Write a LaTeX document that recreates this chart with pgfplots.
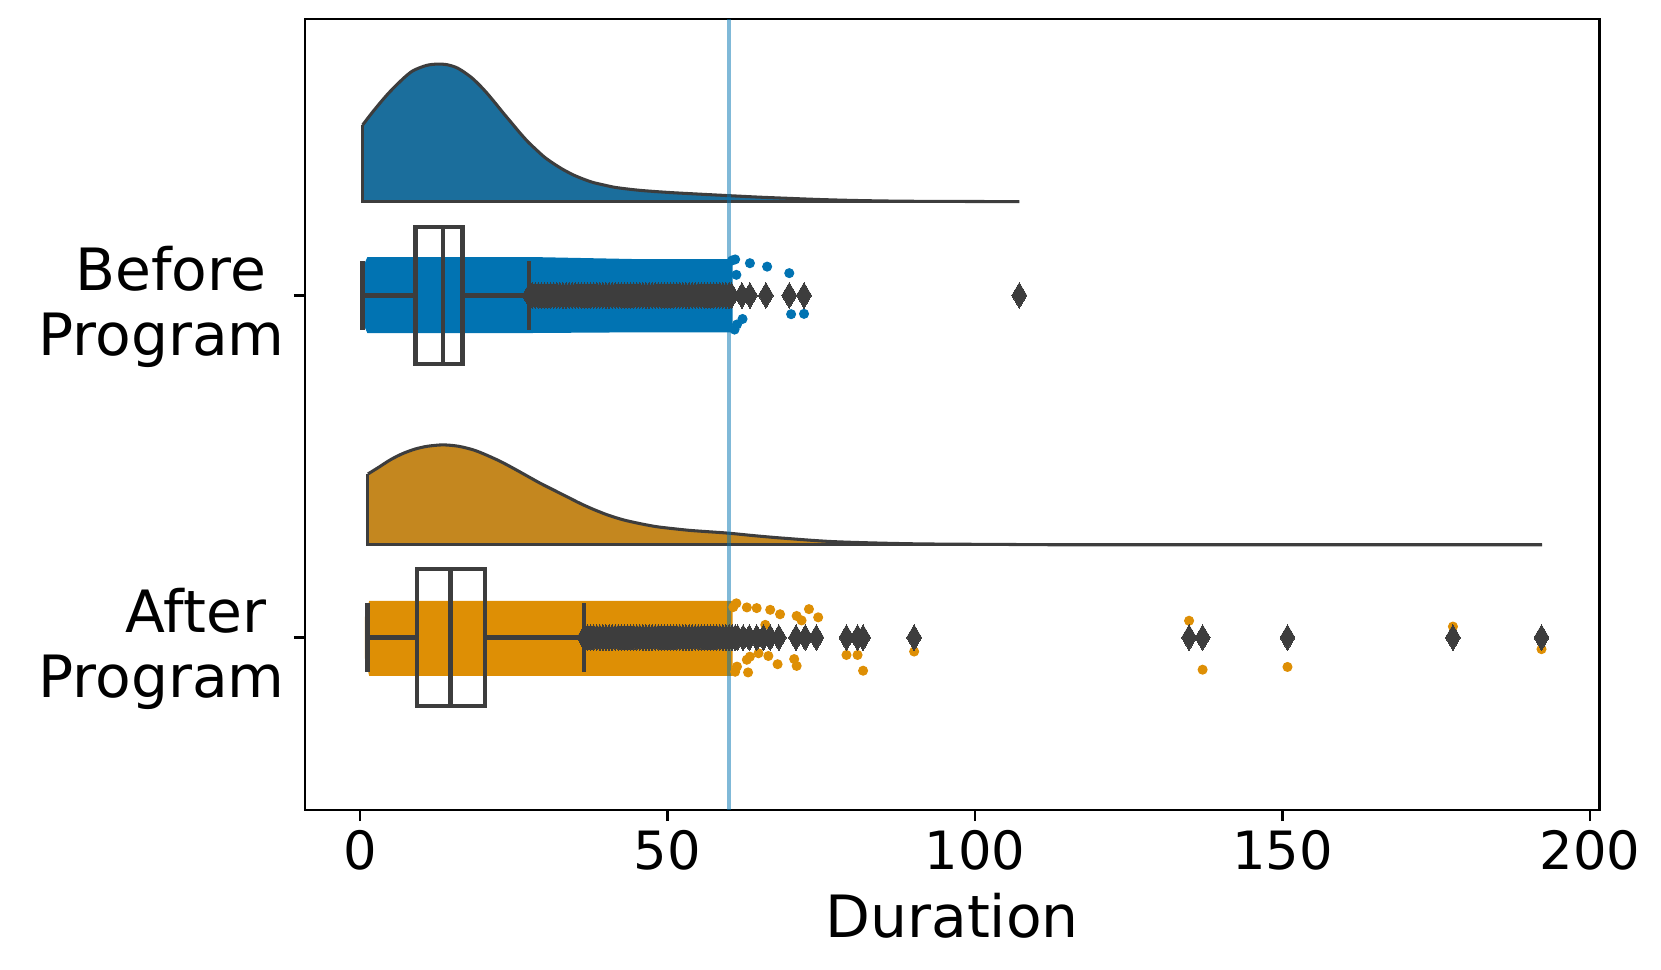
\documentclass[border=0pt]{standalone}
\usepackage{pgfplots}
\pgfplotsset{compat=1.18}
\usepackage{fontspec}
\setmainfont{DejaVu Sans}
\definecolor{cloudB}{HTML}{1B6E9C}
\definecolor{cloudA}{HTML}{C4871F}
\definecolor{dotB}{HTML}{0173B2}
\definecolor{dotA}{HTML}{DE8F05}
\definecolor{boxc}{HTML}{3D3D3D}
\pgfplotstableread{
x y
0.44 -0.498
1.8 -0.530
3.25 -0.562
4.6 -0.590
5.96 -0.615
7.3 -0.638
8.67 -0.657
10.8 -0.672
12.6 -0.676
14.2 -0.674
15.9 -0.664
17.9 -0.640
19.3 -0.617
20.6 -0.592
22.0 -0.562
23.3 -0.533
24.7 -0.503
26.0 -0.475
27.3 -0.449
28.7 -0.425
30.0 -0.404
31.4 -0.386
33.0 -0.368
34.7 -0.352
36.3 -0.340
37.9 -0.330
39.8 -0.322
41.7 -0.315
45.5 -0.307
50 -0.301
54 -0.297
59.9 -0.2915
65 -0.287
69.1 -0.284
75 -0.280
81.5 -0.277
90 -0.275
107.2 -0.274
}\cloudBefore
\pgfplotstableread{
x y
1.3 0.522
3.0 0.503
5.0 0.480
7.0 0.462
9.0 0.449
11.0 0.441
13.5 0.437
16.0 0.441
18.5 0.452
20.6 0.467
22.8 0.485
24.9 0.505
27.1 0.527
29.3 0.549
31.5 0.569
33.6 0.588
35.8 0.608
37.9 0.625
40.3 0.642
42.8 0.656
45.5 0.667
48.2 0.676
51 0.682
53.7 0.687
56.8 0.691
59.9 0.695
64.5 0.703
69.1 0.710
77.3 0.720
89.8 0.726
105 0.728
120 0.729
192.2 0.729
}\cloudAfter
\begin{document}
\begin{tikzpicture}
\useasboundingbox (-109.8pt,-57.6pt) rectangle (488.2pt,291.6pt);
\begin{axis}[
  at={(0pt,0pt)}, anchor=south west,
  width=466pt, height=284.8pt, scale only axis,
  xmin=-8.94, xmax=201.5, ymin=-0.808, ymax=1.504, y dir=reverse,
  xtick={0,50,100,150,200}, ytick={0,1},
  yticklabels={{Before\hspace*{0.318em}\\Program},{After\hspace*{0.318em}\\Program}},
  yticklabel style={align=right, anchor=east, inner sep=0pt, xshift=-3.15pt, yshift=-4.1pt,
    font=\fontsize{21}{23.2}\selectfont},
  xticklabel style={anchor=base, inner sep=0pt, yshift=-17.6pt, font=\fontsize{19}{22}\selectfont},
  xlabel={Duration},
  xlabel style={at={(axis description cs:0.5,0)}, anchor=base, inner sep=0pt, yshift=-45.9pt,
    font=\fontsize{21}{25}\selectfont},
  tick align=outside, major tick length=4pt,
  tick style={black, line width=0.9pt},
  xtick pos=bottom, ytick pos=left,
  axis line style={line width=0.9pt},
  /pgf/number format/assume math mode=true,
]
% ---- clouds: fill, smooth outline, baseline ----
\addplot[fill=cloudB, draw=none, smooth, tension=0.5] table {\cloudBefore} |- (axis cs:0.44,-0.274) -- cycle;
\addplot[draw=boxc, line width=1.1pt, smooth, tension=0.5] table {\cloudBefore};
\addplot[draw=boxc, line width=1.1pt] coordinates {(107.2,-0.274) (0.44,-0.274) (0.44,-0.498)};
\addplot[fill=cloudA, draw=none, smooth, tension=0.5] table {\cloudAfter} |- (axis cs:1.3,0.729) -- cycle;
\addplot[draw=boxc, line width=1.1pt, smooth, tension=0.5] table {\cloudAfter};
\addplot[draw=boxc, line width=1.1pt] coordinates {(192.2,0.729) (1.3,0.729) (1.3,0.522)};
% ---- strips (dense part) ----
\addplot[fill=dotB, draw=none] coordinates {
(1.2,-0.112) (28,-0.112) (45,-0.106) (60.6,-0.106) (60.6,0.108) (45,0.108) (28,0.110)
(1.2,0.110) (0.2,0.07) (0.2,-0.07)} -- cycle;
\addplot[fill=dotA, draw=none] coordinates {
(1.5,0.893) (60.6,0.893) (60.6,1.112) (1.5,1.112) (0.8,1.06) (0.8,0.94)} -- cycle;
% ---- strips (sparse points) ----
\addplot[only marks, mark=*, mark size=1.6pt, mark options={fill=dotB, draw=dotB}] coordinates {
(60.5,-0.102) (63.4,-0.094) (66.2,-0.084) (69.8,-0.065) (70.1,0.055) (72.2,0.054) (62.2,0.069)
(61.0,-0.105) (61.3,0.085) (60.9,0.100) (61.2,-0.060)};
\addplot[only marks, mark=*, mark size=1.6pt, mark options={fill=dotA, draw=dotA}] coordinates {
(62.9,0.912) (64.5,0.914) (66.7,0.919) (68.3,0.932) (71.0,0.937) (71.8,0.950) (73.0,0.917)
(74.5,0.941) (60.7,0.911) (65.9,0.963) (63.1,1.102) (63.4,1.056) (62.9,1.065) (66.4,1.054)
(67.9,1.078) (70.6,1.063) (71.0,1.083) (79.1,1.051) (80.9,1.051) (81.8,1.097) (90.1,1.041)
(64.8,1.046) (61.3,1.085) (61.2,0.900) (61.0,1.100) (134.8,0.951) (137.0,1.094) (150.8,1.086) (177.7,0.968) (192.1,1.034)};
% ---- boxes ----
\addplot[draw=boxc, line width=1.6pt] coordinates {(9.06,-0.2) (16.7,-0.2) (16.7,0.2) (9.06,0.2)} -- cycle;
\addplot[draw=boxc, line width=1.6pt] coordinates {(13.5,-0.2) (13.5,0.2)};
\addplot[draw=boxc, line width=1.6pt] coordinates {(0.44,0) (9.06,0)};
\addplot[draw=boxc, line width=1.6pt] coordinates {(16.7,0) (27.5,0)};
\addplot[draw=boxc, line width=1.6pt] coordinates {(0.44,-0.1) (0.44,0.1)};
\addplot[draw=boxc, line width=1.6pt] coordinates {(27.5,-0.1) (27.5,0.1)};
\addplot[draw=boxc, line width=1.6pt] coordinates {(9.3,0.8) (20.3,0.8) (20.3,1.2) (9.3,1.2)} -- cycle;
\addplot[draw=boxc, line width=1.6pt] coordinates {(14.7,0.8) (14.7,1.2)};
\addplot[draw=boxc, line width=1.6pt] coordinates {(1.25,1) (9.3,1)};
\addplot[draw=boxc, line width=1.6pt] coordinates {(20.3,1) (36.4,1)};
\addplot[draw=boxc, line width=1.6pt] coordinates {(1.25,0.9) (1.25,1.1)};
\addplot[draw=boxc, line width=1.6pt] coordinates {(36.4,0.9) (36.4,1.1)};
% ---- outliers ----
\addplot[only marks, mark=diamond*, mark size=4.6pt, mark options={xscale=0.78, fill=boxc, draw=boxc, line width=0pt}] coordinates {
(27.6,0) (28.0,0) (28.5,0) (29.0,0) (29.5,0) (30.0,0) (30.5,0) (31.0,0) (31.5,0) (32.0,0)
(32.5,0) (33.0,0) (33.5,0) (34.0,0) (34.5,0) (35.0,0) (35.5,0) (36.0,0) (36.5,0) (37.0,0)
(37.5,0) (38.0,0) (38.5,0) (39.0,0) (39.5,0) (40.0,0) (40.5,0) (41.0,0) (41.5,0) (42.0,0)
(42.5,0) (43.0,0) (43.5,0) (44.0,0) (44.5,0) (45.0,0) (45.5,0) (46.0,0) (46.5,0) (47.0,0)
(47.5,0) (48.0,0) (48.5,0) (49.0,0) (49.5,0) (50.0,0) (50.5,0) (51.0,0) (51.5,0) (52.0,0)
(52.5,0) (53.0,0) (53.5,0) (54.0,0) (54.5,0) (55.0,0) (55.5,0) (56.0,0) (56.5,0) (57.0,0)
(57.5,0) (58.0,0) (58.5,0) (59.0,0) (59.5,0) (60.0,0) (60.4,0)
(62.1,0) (63.4,0) (66.0,0) (69.8,0) (72.2,0) (107.2,0)};
\addplot[only marks, mark=diamond*, mark size=4.6pt, mark options={xscale=0.78, fill=boxc, draw=boxc, line width=0pt}] coordinates {
(36.5,1) (37.0,1) (37.5,1) (38.0,1) (38.5,1) (39.0,1) (39.5,1) (40.0,1) (40.5,1) (41.0,1)
(41.5,1) (42.0,1) (42.5,1) (43.0,1) (43.5,1) (44.0,1) (44.5,1) (45.0,1) (45.5,1) (46.0,1)
(46.5,1) (47.0,1) (47.5,1) (48.0,1) (48.5,1) (49.0,1) (49.5,1) (50.0,1) (50.5,1) (51.0,1)
(51.5,1) (52.0,1) (52.5,1) (53.0,1) (53.5,1) (54.0,1) (54.5,1) (55.0,1) (55.5,1) (56.0,1)
(56.5,1) (57.0,1) (57.5,1) (58.0,1) (58.5,1) (59.0,1) (59.5,1) (60.0,1) (60.5,1) (61.0,1)
(61.4,1) (62.3,1) (63.3,1) (64.5,1) (65.6,1)
(66.7,1) (68.1,1) (70.9,1) (72.4,1) (74.2,1) (79.1,1) (80.9,1) (81.8,1) (90.1,1)
(134.8,1) (137.0,1) (150.8,1) (177.7,1) (192.1,1)};
% ---- reference line ----
\addplot[draw=dotB, draw opacity=0.5, line width=1.45pt] coordinates {(60,-0.808) (60,1.504)};
\end{axis}
\end{tikzpicture}
\end{document}
